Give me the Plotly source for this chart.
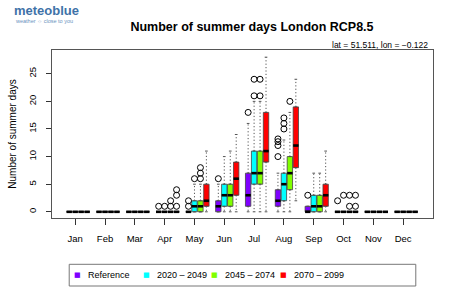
import plotly.graph_objects as go

months = ["Jan", "Feb", "Mar", "Apr", "May", "Jun", "Jul", "Aug", "Sep", "Oct", "Nov", "Dec"]
series_names = ["Reference", "2020 \u2013 2049", "2045 \u2013 2074", "2070 \u2013 2099"]
colors = ["#7F00FF", "#00FFFF", "#80FF00", "#FF0000"]

# Reference
ref_q1 = [0, 0, 0, 0, 0, 0, 1, 1, 0, 0, 0, 0]
ref_med = [0, 0, 0, 0, 0, 1, 3, 2, 0, 0, 0, 0]
ref_q3 = [0, 0, 0, 0, 0, 2, 7, 4, 1, 0, 0, 0]
ref_lo = [0, 0, 0, 0, 0, 0, 0, 0, 0, 0, 0, 0]
ref_hi = [0, 0, 0, 0, 0, 5, 16, 7, 1, 0, 0, 0]
ref_out = [[], [], [], [1], [1, 2], [6], [18], [10, 12, 12.7, 13.2], [3], [2], [], []]

# 2020 - 2049
p1_q1 = [0, 0, 0, 0, 0, 1, 5, 2, 0, 0, 0, 0]
p1_med = [0, 0, 0, 0, 1, 3, 7, 5, 1, 0, 0, 0]
p1_q3 = [0, 0, 0, 0, 2, 5, 11, 7, 3, 0, 0, 0]
p1_lo = [0, 0, 0, 0, 0, 0, 0, 0, 0, 0, 0, 0]
p1_hi = [0, 0, 0, 0, 5, 10, 20, 13, 7, 0, 0, 0]
p1_out = [[], [], [], [1], [6], [], [21, 24], [15, 16, 17], [], [3], [], []]

# 2045 - 2074
p2_q1 = [0, 0, 0, 0, 0, 1, 5, 4, 0, 0, 0, 0]
p2_med = [0, 0, 0, 0, 1, 3, 7, 7, 1, 0, 0, 0]
p2_q3 = [0, 0, 0, 0, 2, 5, 11, 10, 3, 0, 0, 0]
p2_lo = [0, 0, 0, 0, 0, 0, 0, 0, 0, 0, 0, 0]
p2_hi = [0, 0, 0, 0, 5, 11, 20, 18, 7, 0, 0, 0]
p2_out = [[], [], [], [1, 2], [6, 7, 8], [], [21, 24], [20], [], [1, 3], [], []]

# 2070 - 2099
p3_q1 = [0, 0, 0, 0, 1, 3, 9, 8, 1, 0, 0, 0]
p3_med = [0, 0, 0, 0, 2, 6, 11, 12, 3, 0, 0, 0]
p3_q3 = [0, 0, 0, 0, 5, 9, 18, 19, 5, 0, 0, 0]
p3_lo = [0, 0, 0, 0, 0, 0, 0, 2, 0, 0, 0, 0]
p3_hi = [0, 0, 0, 0, 11, 14, 28, 24, 11, 0, 0, 0]
p3_out = [[], [], [], [1, 3, 4], [], [], [], [], [], [1, 3], [], []]

series = [
    (ref_q1, ref_med, ref_q3, ref_lo, ref_hi, ref_out),
    (p1_q1, p1_med, p1_q3, p1_lo, p1_hi, p1_out),
    (p2_q1, p2_med, p2_q3, p2_lo, p2_hi, p2_out),
    (p3_q1, p3_med, p3_q3, p3_lo, p3_hi, p3_out),
]

offsets = [-0.2, 0.0, 0.2, 0.4]
BOXW = 0.18
CAPW = 0.045
FONT = "Liberation Sans, Arial, Helvetica, sans-serif"

fig = go.Figure()

for i, (q1, med, q3, lo, hi, out) in enumerate(series):
    xs = [m + 1 + offsets[i] for m in range(12)]
    fig.add_trace(go.Box(
        x=xs, q1=q1, median=med, q3=q3, lowerfence=q1, upperfence=q3,
        width=BOXW, fillcolor=colors[i], line=dict(color="#444444", width=0.8),
        boxpoints=False, name=series_names[i], showlegend=False, hoverinfo="skip"))
    # whiskers
    wx, wy, cx, cy = [], [], [], []
    for x, a, b, c, d in zip(xs, q1, q3, lo, hi):
        if d > b:
            wx += [x, x, None]; wy += [b, d, None]
        cx += [x - CAPW, x + CAPW, None]; cy += [d, d, None]
        if c < a:
            wx += [x, x, None]; wy += [a, c, None]
        cx += [x - CAPW, x + CAPW, None]; cy += [c, c, None]
    fig.add_trace(go.Scatter(x=wx, y=wy, mode="lines",
                             line=dict(color="#555555", width=1, dash="1.2px,2.2px"),
                             showlegend=False, hoverinfo="skip"))
    fig.add_trace(go.Scatter(x=cx, y=cy, mode="lines",
                             line=dict(color="#555555", width=1),
                             showlegend=False, hoverinfo="skip"))
    # medians
    mx, my = [], []
    for x, m in zip(xs, med):
        mx += [x - BOXW / 2, x + BOXW / 2, None]; my += [m, m, None]
    fig.add_trace(go.Scatter(x=mx, y=my, mode="lines",
                             line=dict(color="black", width=2.6),
                             showlegend=False, hoverinfo="skip"))
    # outliers
    ox, oy = [], []
    for x, vals in zip(xs, out):
        for v in vals:
            ox.append(x); oy.append(v)
    fig.add_trace(go.Scatter(x=ox, y=oy, mode="markers",
                             marker=dict(symbol="circle-open", size=6, color="black",
                                         line=dict(width=1, color="black")),
                             showlegend=False, hoverinfo="skip"))

L, R, T, B = 50, 26, 50, 88
W, H = 459, 306
pw, ph = W - L - R, H - T - B

def px(xp):
    return (xp - L) / pw

def py(yp):
    return (H - B - yp) / ph

annotations = [
    dict(text="lat = 51.511, lon = \u22120.122", x=px(430), y=py(45), xref="paper",
         yref="paper", xanchor="right", yanchor="middle", showarrow=False,
         font=dict(size=8.5)),
    dict(text="<b>meteoblue</b>", x=px(10), y=py(11), xref="paper", yref="paper",
         xanchor="left", yanchor="middle", showarrow=False,
         font=dict(size=13, color="#3f72a8")),
    dict(text="weather \u263c close to you", x=px(11), y=py(21.5), xref="paper",
         yref="paper", xanchor="left", yanchor="middle", showarrow=False,
         font=dict(size=5.5, color="#6a93c0")),
]

# legend (manual, to match the compact base-R layout)
sq_x = [75.3, 145, 213.3, 282.3]
for i, name in enumerate(series_names):
    annotations.append(dict(text="\u25a0", x=px(sq_x[i]), y=py(275), xref="paper",
                            yref="paper", xanchor="center", yanchor="middle",
                            showarrow=False, font=dict(size=7, color=colors[i],
                                                       family="DejaVu Sans")))
    annotations.append(dict(text=name, x=px(sq_x[i] + 8.5), y=py(275), xref="paper",
                            yref="paper", xanchor="left", yanchor="middle",
                            showarrow=False, font=dict(size=9)))

fig.update_layout(
    width=W, height=H,
    margin=dict(l=L, r=R, t=T, b=B),
    paper_bgcolor="white", plot_bgcolor="white",
    font=dict(family=FONT, size=10, color="black"),
    boxmode="overlay",
    showlegend=False,
    title=dict(text="<b>Number of summer days London RCP8.5</b>",
               x=252 / W, xref="container", xanchor="center",
               y=1 - 27 / H, yref="container", yanchor="middle",
               font=dict(size=12.5, family=FONT, color="black")),
    xaxis=dict(range=[0.222, 13.0], tickmode="array", tickvals=list(range(1, 13)),
               ticktext=months, showgrid=False, zeroline=False,
               showline=True, mirror=True, linecolor="#555555", linewidth=1,
               ticks="outside", ticklen=6, tickcolor="#333333",
               ticklabelstandoff=6, tickfont=dict(size=9.5)),
    yaxis=dict(range=[-1.12, 29.3], tickmode="array", tickvals=[0, 5, 10, 15, 20, 25],
               showgrid=False, zeroline=False,
               showline=True, mirror=True, linecolor="#555555", linewidth=1,
               ticks="outside", ticklen=5, tickcolor="#333333", tickangle=-90,
               ticklabelstandoff=6, tickfont=dict(size=9.5),
               title=dict(text="Number of summer days", font=dict(size=10), standoff=8)),
    annotations=annotations,
    shapes=[dict(type="rect", xref="paper", yref="paper",
                 x0=px(67.3), x1=px(415.7), y0=py(264.3), y1=py(286),
                 line=dict(color="#777777", width=1), fillcolor="rgba(0,0,0,0)")],
)

fig.write_html("out.html")
